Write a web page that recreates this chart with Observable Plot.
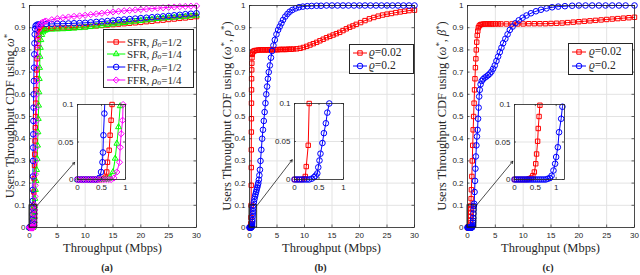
<!DOCTYPE html>
<html><head><meta charset="utf-8">
<script src="https://cdn.jsdelivr.net/npm/d3@7"></script>
<script src="https://cdn.jsdelivr.net/npm/@observablehq/plot@0.6"></script>
<style>
body{margin:0;background:#fff;}
#fig{position:relative;width:640px;height:275px;overflow:hidden;font-family:"Liberation Serif","Times New Roman",serif;color:#262626;}
#fig svg{position:absolute;left:0;top:0;}
.lbl{position:absolute;white-space:nowrap;line-height:1;}
.lbl sup{font-size:70%;vertical-align:0.45em;line-height:0;}
.lbl sub{font-size:70%;vertical-align:-0.25em;line-height:0;}
.legend{position:absolute;background:#fff;border:0.8px solid #262626;box-sizing:border-box;}
</style></head><body><div id="fig"></div>
<script>
// ---------- ticks ----------
const xTicks = [0, 5, 10, 15, 20, 25, 30];
const yTicks = [0, 0.1, 0.2, 0.3, 0.4, 0.5, 0.6, 0.7, 0.8, 0.9, 1];
const insetXTicks = [0, 0.5, 1];
const insetYTicks = [0, 0.05, 0.1];

// ---------- panel (a) ----------
const a_sfr_half = [[0,0],[0.05,0],[0.1,0],[0.15,0],[0.2,0],[0.25,0],[0.3,0],[0.35,0],[0.4,0],[0.45,0],[0.5,0],[0.55,0.001],[0.58,0.003],[0.61,0.01],[0.625,0.023],[0.66,0.039],[0.68,0.059],[0.7,0.079],[0.72,0.1],[0.78,0.16],[0.84,0.22],[0.9,0.28],[0.95,0.33],[1.0,0.39],[1.05,0.45],[1.1,0.5],[1.15,0.56],[1.2,0.62],[1.25,0.67],[1.3,0.71],[1.36,0.76],[1.43,0.81],[1.5,0.845],[1.6,0.868],[1.75,0.882],[1.95,0.889],[2.2,0.893],[2.6,0.895],[3,0.896],[4,0.897],[5,0.898],[6,0.899],[7,0.9],[8,0.901],[9,0.902],[10,0.904],[11,0.906],[12,0.908],[13,0.91],[14,0.912],[15,0.914],[16,0.916],[17,0.918],[18,0.92],[19,0.922],[20,0.924],[21,0.927],[22,0.929],[23,0.932],[24,0.934],[25,0.937],[26,0.939],[27,0.942],[28,0.944],[29,0.947],[30,0.95]];
const a_sfr_quarter = [[0,0],[0.05,0],[0.1,0],[0.15,0],[0.2,0],[0.25,0],[0.3,0],[0.35,0],[0.4,0],[0.45,0],[0.5,0],[0.55,0],[0.6,0],[0.65,0.001],[0.68,0.003],[0.74,0.01],[0.785,0.028],[0.82,0.048],[0.855,0.07],[0.89,0.098],[0.97,0.13],[1.07,0.17],[1.18,0.21],[1.28,0.26],[1.37,0.31],[1.45,0.37],[1.52,0.43],[1.58,0.49],[1.64,0.55],[1.7,0.61],[1.76,0.67],[1.82,0.72],[1.88,0.77],[1.95,0.81],[2.05,0.845],[2.2,0.868],[2.4,0.88],[2.7,0.887],[3,0.89],[4,0.892],[5,0.893],[6,0.894],[7,0.895],[8,0.897],[9,0.899],[10,0.901],[11,0.904],[12,0.907],[13,0.91],[14,0.913],[15,0.916],[16,0.919],[17,0.922],[18,0.925],[19,0.928],[20,0.931],[21,0.934],[22,0.937],[23,0.94],[24,0.942],[25,0.944],[26,0.946],[27,0.948],[28,0.95],[29,0.952],[30,0.955]];
const a_ffr_half = [[0,0],[0.05,0],[0.1,0],[0.15,0],[0.2,0],[0.25,0],[0.3,0],[0.35,0],[0.4,0],[0.45,0.002],[0.49,0.01],[0.52,0.023],[0.53,0.036],[0.54,0.059],[0.56,0.088],[0.58,0.12],[0.6,0.17],[0.62,0.23],[0.64,0.3],[0.66,0.36],[0.68,0.42],[0.7,0.48],[0.72,0.54],[0.75,0.6],[0.78,0.66],[0.81,0.72],[0.85,0.78],[0.89,0.83],[0.94,0.87],[1.0,0.895],[1.1,0.908],[1.3,0.913],[1.6,0.915],[2,0.916],[3,0.917],[4,0.917],[5,0.918],[6,0.918],[7,0.919],[8,0.92],[9,0.921],[10,0.922],[11,0.924],[12,0.926],[13,0.928],[14,0.93],[15,0.932],[16,0.935],[17,0.937],[18,0.939],[19,0.941],[20,0.943],[21,0.945],[22,0.947],[23,0.949],[24,0.951],[25,0.953],[26,0.956],[27,0.958],[28,0.961],[29,0.963],[30,0.965]];
const a_ffr_quarter = [[0,0],[0.05,0],[0.1,0],[0.15,0],[0.2,0],[0.25,0],[0.3,0],[0.35,0],[0.4,0],[0.45,0],[0.5,0],[0.55,0],[0.6,0],[0.65,0],[0.7,0],[0.76,0.002],[0.82,0.01],[0.875,0.023],[0.89,0.043],[0.91,0.061],[0.94,0.079],[0.95,0.1],[0.99,0.14],[1.03,0.19],[1.07,0.24],[1.11,0.3],[1.15,0.36],[1.19,0.42],[1.23,0.48],[1.27,0.54],[1.31,0.6],[1.35,0.66],[1.4,0.72],[1.45,0.77],[1.5,0.82],[1.57,0.86],[1.65,0.89],[1.8,0.908],[2.0,0.918],[2.3,0.924],[2.7,0.928],[3,0.93],[4,0.936],[5,0.941],[6,0.945],[7,0.948],[8,0.951],[9,0.953],[10,0.956],[11,0.959],[12,0.962],[13,0.965],[14,0.968],[15,0.971],[16,0.974],[17,0.976],[18,0.978],[19,0.98],[20,0.982],[21,0.984],[22,0.986],[23,0.988],[24,0.99],[25,0.992],[26,0.993],[27,0.995],[28,0.996],[29,0.997],[30,0.998]];

// ---------- panel (b) ----------
const b_rho002 = [[0,0],[0.05,0],[0.1,0],[0.15,0],[0.2,0.001],[0.22,0.004],[0.24,0.017],[0.28,0.045],[0.3,0.1],[0.31,0.19],[0.32,0.27],[0.33,0.35],[0.34,0.43],[0.35,0.49],[0.36,0.56],[0.37,0.62],[0.38,0.67],[0.4,0.71],[0.42,0.74],[0.45,0.765],[0.5,0.78],[0.6,0.79],[0.8,0.795],[1.0,0.797],[1.3,0.798],[1.6,0.799],[1.9,0.8],[2.2,0.8],[2.5,0.8],[2.8,0.8],[3.1,0.8],[3.4,0.8],[3.7,0.801],[4.0,0.801],[4.3,0.801],[4.6,0.801],[4.9,0.801],[5.2,0.801],[5.5,0.802],[5.8,0.802],[6.1,0.802],[6.4,0.802],[6.7,0.802],[7.0,0.803],[7.3,0.803],[7.6,0.803],[8.0,0.804],[8.6,0.805],[9.2,0.807],[9.8,0.811],[10.4,0.816],[11,0.822],[11.6,0.828],[12.2,0.834],[12.8,0.841],[13.4,0.848],[14,0.855],[14.6,0.861],[15.2,0.867],[15.8,0.873],[16.4,0.879],[17,0.887],[17.6,0.895],[18.2,0.902],[18.8,0.908],[19.4,0.915],[20.2,0.923],[21,0.932],[21.8,0.94],[22.6,0.946],[23.4,0.952],[24.2,0.957],[25,0.961],[25.8,0.964],[26.6,0.968],[27.4,0.971],[28.2,0.974],[29,0.977],[30,0.979]];
const b_rho02 = [[0,0],[0.05,0],[0.1,0],[0.15,0],[0.2,0],[0.25,0],[0.3,0],[0.35,0.001],[0.4,0.003],[0.43,0.005],[0.465,0.008],[0.485,0.016],[0.51,0.025],[0.53,0.034],[0.57,0.048],[0.6,0.061],[0.64,0.074],[0.67,0.088],[0.71,0.1],[0.8,0.115],[0.9,0.128],[1.0,0.14],[1.1,0.15],[1.2,0.16],[1.3,0.17],[1.4,0.18],[1.5,0.19],[1.6,0.2],[1.7,0.215],[1.8,0.235],[1.9,0.26],[2.0,0.3],[2.15,0.35],[2.3,0.4],[2.45,0.44],[2.6,0.48],[2.75,0.52],[2.9,0.56],[3.05,0.6],[3.2,0.635],[3.35,0.67],[3.5,0.7],[3.7,0.73],[3.9,0.765],[4.1,0.795],[4.35,0.82],[4.6,0.845],[4.9,0.87],[5.2,0.89],[5.5,0.905],[5.8,0.92],[6.1,0.935],[6.5,0.95],[6.9,0.962],[7.3,0.972],[7.8,0.98],[8.4,0.987],[9,0.992],[9.7,0.995],[10.5,0.997],[11.3,0.998],[12.2,0.999],[13,0.999],[14,1],[15,1],[16,1],[17,1],[18,1],[19,1],[20,1],[21,1],[22,1],[23,1],[24,1],[25,1],[26,1],[27,1],[28,1],[29,1],[30,1]];

// ---------- panel (c) ----------
const c_rho002 = [[0,0],[0.05,0],[0.1,0],[0.15,0],[0.2,0],[0.25,0],[0.3,0],[0.35,0.001],[0.4,0.002],[0.44,0.005],[0.476,0.01],[0.51,0.021],[0.53,0.034],[0.555,0.051],[0.57,0.068],[0.59,0.084],[0.61,0.099],[0.65,0.13],[0.7,0.17],[0.78,0.23],[0.86,0.3],[0.94,0.37],[1.02,0.44],[1.1,0.5],[1.18,0.56],[1.26,0.62],[1.34,0.67],[1.42,0.72],[1.5,0.76],[1.58,0.8],[1.66,0.835],[1.75,0.865],[1.85,0.885],[1.95,0.9],[2.1,0.908],[2.3,0.913],[2.5,0.915],[2.8,0.916],[3.1,0.917],[3.4,0.917],[3.7,0.917],[4,0.917],[4.3,0.917],[4.6,0.917],[5,0.917],[5.5,0.917],[6,0.917],[7,0.917],[8,0.917],[9,0.917],[10,0.917],[11,0.918],[12,0.918],[13,0.918],[14,0.918],[15,0.919],[16,0.92],[17,0.921],[18,0.923],[19,0.925],[20,0.927],[21,0.929],[22,0.931],[23,0.933],[24,0.935],[25,0.937],[26,0.939],[27,0.941],[28,0.943],[29,0.945],[30,0.947]];
const c_rho02 = [[0,0],[0.05,0],[0.1,0],[0.15,0],[0.2,0],[0.25,0],[0.3,0],[0.35,0],[0.4,0],[0.45,0],[0.5,0],[0.55,0],[0.6,0],[0.65,0],[0.7,0],[0.75,0],[0.8,0.001],[0.85,0.002],[0.89,0.005],[0.935,0.012],[0.975,0.021],[1.0,0.03],[1.04,0.043],[1.07,0.063],[1.12,0.081],[1.15,0.097],[1.2,0.107],[1.27,0.16],[1.35,0.21],[1.42,0.265],[1.5,0.32],[1.6,0.37],[1.7,0.41],[1.8,0.44],[1.9,0.49],[2.0,0.54],[2.1,0.59],[2.2,0.62],[2.35,0.645],[2.55,0.66],[2.8,0.668],[3.1,0.675],[3.4,0.68],[3.7,0.686],[4.0,0.693],[4.3,0.702],[4.6,0.715],[4.9,0.73],[5.2,0.75],[5.5,0.77],[5.8,0.79],[6.1,0.81],[6.4,0.83],[6.8,0.85],[7.2,0.87],[7.6,0.89],[8.1,0.905],[8.6,0.92],[9.2,0.933],[9.9,0.945],[10.6,0.955],[11.4,0.965],[12.3,0.974],[13.2,0.981],[14.2,0.987],[15.2,0.992],[16.3,0.995],[17.5,0.997],[18.8,0.999],[20,1],[21.2,1],[22.4,1],[23.6,1],[24.8,1],[26,1],[27.2,1],[28.4,1],[30,1]];

// ---------- legend labels ----------
const legendA = ['SFR, <i>β</i><sub><i>o</i></sub>=1/2','SFR, <i>β</i><sub><i>o</i></sub>=1/4','FFR, <i>ρ</i><sub><i>o</i></sub>=1/2','FFR, <i>ρ</i><sub><i>o</i></sub>=1/4'];
const legendBC = ['<i>ϱ</i>=0.02','<i>ϱ</i>=0.2'];
const yLabels = ['Users Throughput CDF using <i>ω</i><sup>*</sup>','Users Throughput CDF using (<i>ω</i><sup>*</sup>, <i>ρ</i><sup>*</sup>)','Users Throughput CDF using (<i>ω</i><sup>*</sup>, <i>β</i><sup>*</sup>)'];
const xLabel = 'Throughput (Mbps)';
const subLabels = ['(a)','(b)','(c)'];

// zoom boxes & arrows (data units)
const zoomBoxes = [{x1:0,x2:1.4,y1:0,y2:0.1},{x1:0,x2:1.4,y1:0,y2:0.1},{x1:0,x2:1.6,y1:0,y2:0.1}];
const arrows = [{x1:1.4,y1:0.1,x2:8.1,y2:0.293},{x1:1.4,y1:0.1,x2:7.76,y2:0.305},{x1:1.6,y1:0.1,x2:8.13,y2:0.298}];

// ---------- styling ----------
const RED="#ff0000", GREEN="#00ff00", BLUE="#0000ff", MAG="#ff00ff", AX="#262626", GRID="#e3e3e3";
const seriesA = [
  {data:a_sfr_half, color:RED, sym:"square2"},
  {data:a_sfr_quarter, color:GREEN, sym:"triangle2"},
  {data:a_ffr_half, color:BLUE, sym:"circle"},
  {data:a_ffr_quarter, color:MAG, sym:"diamond2"}];
const seriesB = [{data:b_rho002,color:RED,sym:"square2"},{data:b_rho02,color:BLUE,sym:"circle"}];
const seriesC = [{data:c_rho002,color:RED,sym:"square2"},{data:c_rho02,color:BLUE,sym:"circle"}];
const d3sym = {square2:d3.symbolSquare2, triangle2:d3.symbolTriangle2, circle:d3.symbolCircle, diamond2:d3.symbolDiamond2};
const R = 2.8;
const W=640, H=275;
const fig = document.getElementById("fig");

function frameTicks(f, xt, yt, len){
  const fw=f.r-f.l, fh=f.b-f.t;
  return [
    Plot.tickX(xt,{x:d=>d,stroke:AX,strokeWidth:0.7,insetTop:fh-len}),
    Plot.tickX(xt,{x:d=>d,stroke:AX,strokeWidth:0.7,insetBottom:fh-len}),
    Plot.tickY(yt,{y:d=>d,stroke:AX,strokeWidth:0.7,insetRight:fw-len}),
    Plot.tickY(yt,{y:d=>d,stroke:AX,strokeWidth:0.7,insetLeft:fw-len})
  ];
}
function seriesMarks(series, filt, clip){
  const m=[];
  for(const s of series){
    m.push(Plot.line(s.data,{x:d=>d[0],y:d=>d[1],stroke:s.color,strokeWidth:1,clip:clip}));
  }
  for(const s of series){
    m.push(Plot.dot(s.data.filter(filt),{x:d=>d[0],y:d=>d[1],symbol:s.sym,stroke:s.color,fill:"none",r:R,strokeWidth:1}));
  }
  return m;
}
const tickFont = {background:"transparent",fontFamily:"'Liberation Sans',Arial,sans-serif",fontSize:"8px",color:AX,overflow:"visible"};
function mainPanel(f, series, box, arrow){
  const svg = Plot.plot({
    width:W,height:H,marginLeft:f.l,marginRight:W-f.r,marginTop:f.t,marginBottom:H-f.b,
    style:tickFont,
    x:{domain:[0,30],ticks:xTicks,tickSize:0,tickPadding:5,label:null},
    y:{domain:[0,1],ticks:yTicks,tickSize:0,tickPadding:4,label:null,tickFormat:d3.format("~g")},
    marks:[
      Plot.ruleX(xTicks,{stroke:GRID}),
      Plot.ruleY(yTicks,{stroke:GRID}),
      ...seriesMarks(series, d=>true, false),
      Plot.rect([box],{x1:"x1",x2:"x2",y1:"y1",y2:"y2",fill:"none",stroke:"#000",strokeWidth:0.8}),
      Plot.arrow([arrow],{x1:"x1",y1:"y1",x2:"x2",y2:"y2",stroke:"#000",strokeWidth:0.7,headLength:5}),
      ...frameTicks(f,xTicks,yTicks,2.5),
      Plot.frame({stroke:AX,strokeWidth:0.8})
    ]
  });
  fig.appendChild(svg);
}
function insetPanel(f, xmax, series){
  const svg = Plot.plot({
    width:W,height:H,marginLeft:f.l,marginRight:W-f.r,marginTop:f.t,marginBottom:H-f.b,
    style:tickFont,
    x:{domain:[0,xmax],ticks:insetXTicks,tickSize:0,tickPadding:5,label:null,tickFormat:d3.format("~g")},
    y:{domain:[0,0.1],ticks:insetYTicks,tickSize:0,tickPadding:4,label:null,tickFormat:d3.format("~g")},
    marks:[
      Plot.frame({fill:"#fff",stroke:"none"}),
      Plot.ruleX(insetXTicks,{stroke:GRID}),
      Plot.ruleY(insetYTicks,{stroke:GRID}),
      ...seriesMarks(series, d=>d[0]<=xmax+1e-9 && d[1]<=0.1+1e-9, true),
      ...frameTicks(f,insetXTicks,insetYTicks,2),
      Plot.frame({stroke:AX,strokeWidth:0.8})
    ]
  });
  fig.appendChild(svg);
}
function text(html, x, y, size, opts={}){
  const d=document.createElement("div");
  d.className="lbl"; d.innerHTML=html;
  d.style.left=x+"px"; d.style.top=y+"px"; d.style.fontSize=size+"px";
  let t="translate(-50%,-50%)"; if(opts.rotate) t+=" rotate(-90deg)";
  d.style.transform=t;
  if(opts.bold) d.style.fontWeight="bold";
  if(opts.anchor==="start") d.style.transform="translate(0,-50%)";
  fig.appendChild(d);
}
function legend(box, labels, series, rows, lx0, lx1, tx, fs){
  const L=document.createElement("div");
  L.className="legend";
  Object.assign(L.style,{left:box.l+"px",top:box.t+"px",width:box.w+"px",height:box.h+"px"});
  fig.appendChild(L);
  labels.forEach((lab,i)=>{
    const s=series[i], y=rows[i];
    const w=lx1-lx0;
    const sv=d3.create("svg").attr("width",w+8).attr("height",12)
      .style("left",(lx0-4)+"px").style("top",(y-6)+"px").style("overflow","visible");
    sv.append("line").attr("x1",4).attr("x2",4+w).attr("y1",6).attr("y2",6).attr("stroke",s.color).attr("stroke-width",1);
    sv.append("path").attr("d",d3.symbol(d3sym[s.sym],R*R*Math.PI)()).attr("transform",`translate(${4+w/2},6)`)
      .attr("fill","none").attr("stroke",s.color).attr("stroke-width",1);
    fig.appendChild(sv.node());
    text(lab, tx, y, fs, {anchor:"start"});
  });
}

const frames=[{l:29,r:196,t:5,b:227},{l:249,r:414,t:5,b:227},{l:467,r:634,t:5,b:227}];
const insets=[{l:77,r:125,t:104,b:179},{l:294,r:343,t:103,b:179},{l:514,r:564,t:104,b:179}];
const insetMax=[1,1,1.2];
const allSeries=[seriesA,seriesB,seriesC];

frames.forEach((f,i)=>mainPanel(f,allSeries[i],zoomBoxes[i],arrows[i]));
insets.forEach((f,i)=>insetPanel(f,insetMax[i],allSeries[i]));

legend({l:103,t:29,w:91,h:59}, legendA, seriesA, [41.7,54,66.7,80], 106.7, 125, 127, 11);
legend({l:349,t:44,w:65,h:30}, legendBC, seriesB, [52.7,65.7], 352.7, 366.7, 369, 11.5);
legend({l:568,t:43,w:65,h:32}, legendBC, seriesC, [52.3,66], 572, 586, 589, 11.5);

const yLabX=[9.5,227,442];
frames.forEach((f,i)=>{
  text(yLabels[i], yLabX[i], 116, 12.5, {rotate:true});
  text(xLabel, (f.l+f.r)/2, 248, 12.5);
});
const subX=[107,320.5,548];
subLabels.forEach((s,i)=>text(s, subX[i], 268, 10, {bold:true}));
</script></body></html>
